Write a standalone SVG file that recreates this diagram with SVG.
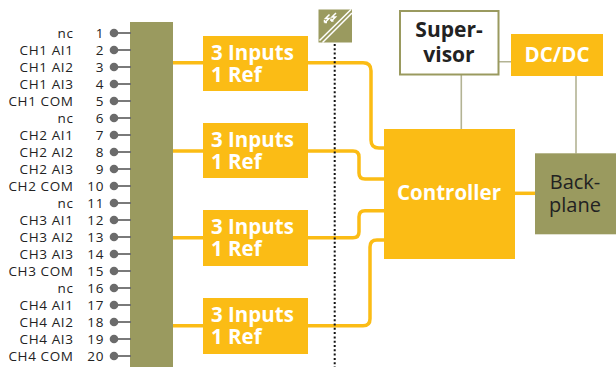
<svg xmlns="http://www.w3.org/2000/svg" width="616" height="367" viewBox="0 0 616 367">
<style>
.lbl{font-family:"Open Sans","Liberation Sans",sans-serif;font-size:13.5px;letter-spacing:0.6px;fill:#222;text-anchor:end}
.bt{font-family:"Open Sans","Liberation Sans",sans-serif;font-weight:bold;font-size:20.5px;fill:#fff}
.dk{font-family:"Open Sans","Liberation Sans",sans-serif;font-weight:bold;font-size:21px;fill:#222;text-anchor:middle}
.rg{font-family:"Open Sans","Liberation Sans",sans-serif;font-size:20px;fill:#222;text-anchor:middle}
.y{fill:#FBBC15}
.ol{fill:#9A9A5F}
.yl{fill:none;stroke:#FBBC15;stroke-width:3.5}
.gl{fill:none;stroke:#B3B394;stroke-width:1.6}
.pin{stroke:#6b6b6b;stroke-width:1.8}
.dot{fill:#6b6b6b}
.wl{stroke:#fff;stroke-width:1.5;fill:none}
</style>
<defs>
<g id="pin"><line class="pin" x1="114" y1="0" x2="131" y2="0"/><circle class="dot" cx="114" cy="0" r="4.3"/></g>
</defs>
<g id="connectors">
<path class="yl" d="M173,62.7 H204 M173,151 H204 M173,237.7 H204 M173,325.7 H204"/>
<path class="yl" d="M307,62.7 H363 Q371,62.7 371,70.7 V140 Q371,148 379,148 H385"/>
<path class="yl" d="M307,151 H353 Q359,151 359,157 V173 Q359,179 365,179 H385"/>
<path class="yl" d="M307,237.7 H353 Q359,237.7 359,231.7 V216.7 Q359,210.7 365,210.7 H385"/>
<path class="yl" d="M307,325.7 H363 Q370,325.7 370,318.7 V247 Q370,240 377,240 H385"/>
<path class="yl" d="M514,193.3 H536"/>
<path class="gl" d="M499,61.7 H511 M461.3,74.7 V129 M576,75.7 V153.5"/>
<line x1="334.7" y1="44" x2="334.7" y2="367" stroke="#111" stroke-width="2" stroke-dasharray="2 2.3"/>
</g>
<g id="terminal">
<rect class="ol" x="130" y="22" width="43" height="345"/>
<use href="#pin" y="33"/><use href="#pin" y="50"/><use href="#pin" y="67"/><use href="#pin" y="84"/><use href="#pin" y="101"/>
<use href="#pin" y="118"/><use href="#pin" y="135"/><use href="#pin" y="152"/><use href="#pin" y="169"/><use href="#pin" y="186"/>
<use href="#pin" y="203"/><use href="#pin" y="220"/><use href="#pin" y="237"/><use href="#pin" y="254"/><use href="#pin" y="271"/>
<use href="#pin" y="288"/><use href="#pin" y="305"/><use href="#pin" y="322"/><use href="#pin" y="339"/><use href="#pin" y="356"/>
<g class="lbl">
<text x="73.5" y="38">nc</text><text x="104" y="38">1</text>
<text x="73.5" y="55">CH1 AI1</text><text x="104" y="55">2</text>
<text x="73.5" y="72">CH1 AI2</text><text x="104" y="72">3</text>
<text x="73.5" y="89">CH1 AI3</text><text x="104" y="89">4</text>
<text x="73.5" y="106">CH1 COM</text><text x="104" y="106">5</text>
<text x="73.5" y="123">nc</text><text x="104" y="123">6</text>
<text x="73.5" y="140">CH2 AI1</text><text x="104" y="140">7</text>
<text x="73.5" y="157">CH2 AI2</text><text x="104" y="157">8</text>
<text x="73.5" y="174">CH2 AI3</text><text x="104" y="174">9</text>
<text x="73.5" y="191">CH2 COM</text><text x="104" y="191">10</text>
<text x="73.5" y="208">nc</text><text x="104" y="208">11</text>
<text x="73.5" y="225">CH3 AI1</text><text x="104" y="225">12</text>
<text x="73.5" y="242">CH3 AI2</text><text x="104" y="242">13</text>
<text x="73.5" y="259">CH3 AI3</text><text x="104" y="259">14</text>
<text x="73.5" y="276">CH3 COM</text><text x="104" y="276">15</text>
<text x="73.5" y="293">nc</text><text x="104" y="293">16</text>
<text x="73.5" y="310">CH4 AI1</text><text x="104" y="310">17</text>
<text x="73.5" y="327">CH4 AI2</text><text x="104" y="327">18</text>
<text x="73.5" y="344">CH4 AI3</text><text x="104" y="344">19</text>
<text x="73.5" y="361">CH4 COM</text><text x="104" y="361">20</text>
</g>
</g>
<g id="in1"><rect class="y" x="203" y="36" width="105" height="55"/><text class="bt" x="211" y="59.5">3 Inputs<tspan x="211" dy="22.5">1 Ref</tspan></text></g>
<g id="in2"><rect class="y" x="203" y="123" width="105" height="55"/><text class="bt" x="211" y="146.5">3 Inputs<tspan x="211" dy="22.5">1 Ref</tspan></text></g>
<g id="in3"><rect class="y" x="203" y="210" width="105" height="56"/><text class="bt" x="211" y="233.5">3 Inputs<tspan x="211" dy="22.5">1 Ref</tspan></text></g>
<g id="in4"><rect class="y" x="203" y="298" width="105" height="56"/><text class="bt" x="211" y="321.5">3 Inputs<tspan x="211" dy="22.5">1 Ref</tspan></text></g>
<g id="isolation">
<rect class="ol" x="318.5" y="9.5" width="33.5" height="33"/>
<path class="wl" d="M319.5,40.5 L351,9.5 M322.5,42.5 L352,13"/>
<path class="wl" d="M329.5,14.5 l-4,4 l3.5,0 l-4,4 M324.5,22.5 l0,-2.5 M324.5,22.5 l2.5,0"/>
<path class="wl" d="M336,13 l-4,4 l3.5,0 l-4,4 M331,21 l0,-2.5 M331,21 l2.5,0"/>
</g>
<g id="controller"><rect class="y" x="384" y="129" width="131" height="130"/><text class="bt" x="449" y="200" text-anchor="middle">Controller</text></g>
<g id="supervisor"><rect x="400" y="11" width="98.5" height="63.5" fill="#fff" stroke="#9A9A5F" stroke-width="2"/><text class="dk" x="449" y="37">Super-<tspan x="449" dy="25">visor</tspan></text></g>
<g id="dcdc"><rect class="y" x="511" y="34" width="92" height="42"/><text class="bt" x="557" y="62" text-anchor="middle" font-size="21.5">DC/DC</text></g>
<g id="backplane"><rect class="ol" x="535" y="153.3" width="81" height="81"/><text class="rg" x="575" y="188.5">Back-<tspan x="575" dy="23.5">plane</tspan></text></g>
</svg>
